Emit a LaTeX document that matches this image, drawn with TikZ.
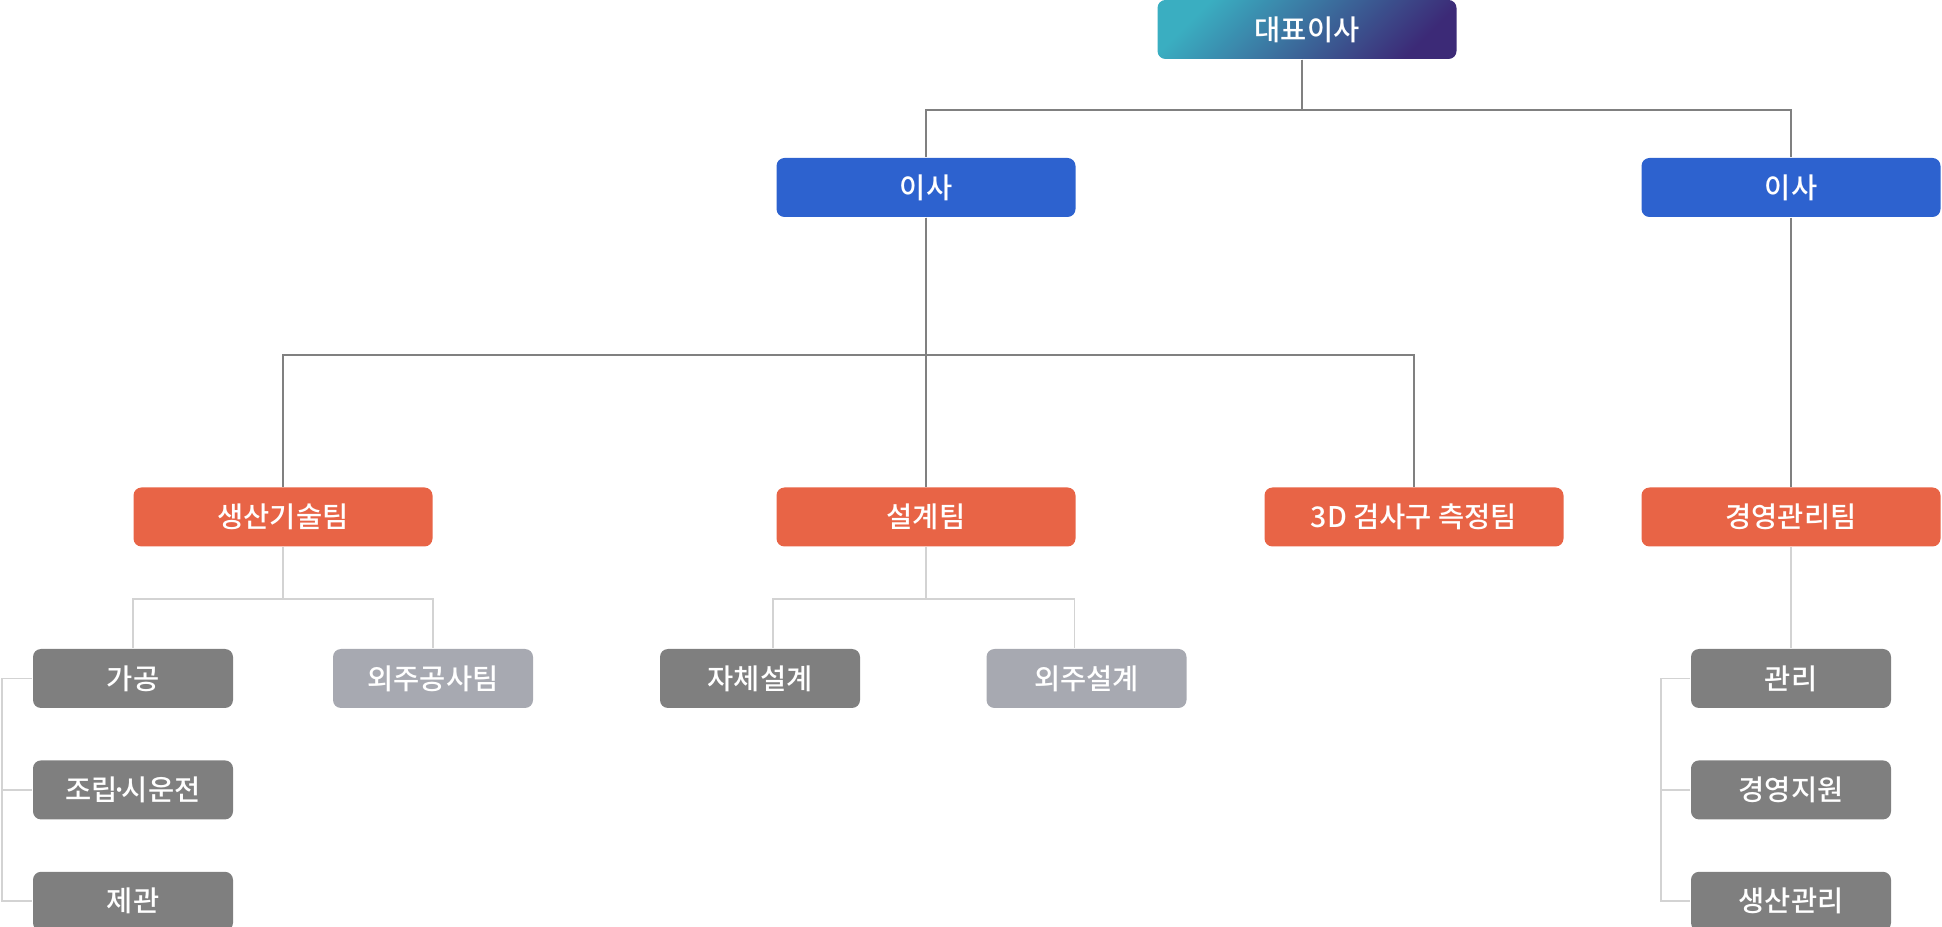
\documentclass[tikz,border=0pt]{standalone}
\usepackage{fontspec}
\setmainfont{Noto Sans CJK KR}[UprightFont=* Medium]
\usetikzlibrary{calc, positioning}

\definecolor{boxblue}{HTML}{2D62CF}
\definecolor{boxorange}{HTML}{E86446}
\definecolor{boxgray}{HTML}{7F7F7F}
\definecolor{boxlight}{HTML}{A7A9B1}
\definecolor{ceoteal}{HTML}{3AAEC1}
\definecolor{ceopurple}{HTML}{3C2A77}
\definecolor{linedark}{HTML}{808080}
\definecolor{linelight}{HTML}{D3D3D3}

\begin{document}
\begin{tikzpicture}[
        box/.style={rounded corners=0.08cm, text=white, minimum height=0.59cm, inner sep=0pt, font=\fontsize{8.1}{9}\selectfont},
        bigbox/.style={box, minimum width=2.99cm},
        smallbox/.style={box, minimum width=2.0cm, fill=boxgray},
        lightbox/.style={smallbox, fill=boxlight},
        upline/.style={draw=linedark, line width=0.55pt},
        lowline/.style={draw=linelight, line width=0.55pt}]
        \useasboundingbox (0,0) rectangle (19.42,-9.27);

        %Leitung
        \node (ceo) at (13.07,-0.295)[bigbox, left color=ceoteal, right color=ceopurple, shading angle=45]{대표이사};
        \node (dirL) at (9.26,-1.875)[bigbox, fill=boxblue]{이사};
        \node (dirR) at (17.91,-1.875)[bigbox, fill=boxblue]{이사};

        %Teams
        \node (prod) at (2.83,-5.17)[bigbox, fill=boxorange]{생산기술팀};
        \node (design) at (9.26,-5.17)[bigbox, fill=boxorange]{설계팀};
        \node (meas) at (14.14,-5.17)[bigbox, fill=boxorange]{3D 검사구 측정팀};
        \node (mgmt) at (17.91,-5.17)[bigbox, fill=boxorange]{경영관리팀};

        %Abteilungen
        \node (proc) at (1.33,-6.785)[smallbox]{가공};
        \node (assembly) [smallbox, below=0.51cm of proc]{조립\kern-0.22em·\kern-0.22em시운전};
        \node (weld) [smallbox, below=0.51cm of assembly]{제관};
        \node (outcon) at (4.33,-6.785)[lightbox]{외주공사팀};
        \node (selfdes) at (7.60,-6.785)[smallbox]{자체설계};
        \node (outdes) at (10.865,-6.785)[lightbox]{외주설계};
        \node (admin) at (17.91,-6.785)[smallbox]{관리};
        \node (support) [smallbox, below=0.51cm of admin]{경영지원};
        \node (prodmgmt) [smallbox, below=0.51cm of support]{생산관리};

        %Linien oben
        \draw[upline] ([xshift=-0.05cm]ceo.south) -- ++(0,-0.5) -| (dirL.north);
        \draw[upline] ([xshift=-0.05cm]ceo.south) -- ++(0,-0.5) -| (dirR.north);
        \draw[upline] (dirL.south) -- ++(0,-1.37) -| (prod.north);
        \draw[upline] (dirL.south) -- (design.north);
        \draw[upline] (dirL.south) -- ++(0,-1.37) -| (meas.north);
        \draw[upline] (dirR.south) -- (mgmt.north);

        %Linien unten
        \draw[lowline] (prod.south) -- ++(0,-0.515) -| (proc.north);
        \draw[lowline] (prod.south) -- ++(0,-0.515) -| (outcon.north);
        \draw[lowline] (design.south) -- ++(0,-0.515) -| ([xshift=0.13cm]selfdes.north);
        \draw[lowline] (design.south) -- ++(0,-0.515) -| ([xshift=-0.12cm]outdes.north);
        \draw[lowline] (mgmt.south) -- (admin.north);

        %Klammern
        \draw[lowline] (proc.west) -- ++(-0.305,0) |- (weld.west);
        \draw[lowline] (assembly.west) -- ++(-0.305,0);
        \draw[lowline] (admin.west) -- ++(-0.295,0) |- (prodmgmt.west);
        \draw[lowline] (support.west) -- ++(-0.295,0);
    \end{tikzpicture}
\end{document}
